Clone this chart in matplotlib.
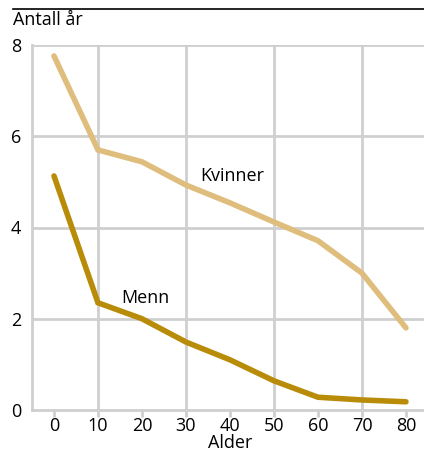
import matplotlib.pyplot as plt
from matplotlib.lines import Line2D

plt.rcParams['font.family'] = ['Open Sans', 'DejaVu Sans']

alder = [0, 10, 20, 30, 40, 50, 60, 70, 80]
kvinner = [7.76, 5.70, 5.44, 4.93, 4.54, 4.12, 3.71, 3.00, 1.80]
menn = [5.13, 2.35, 2.00, 1.49, 1.10, 0.64, 0.28, 0.22, 0.18]

fig = plt.figure(figsize=(4.24, 4.53), dpi=100)
W, H = 424, 453
ax = fig.add_axes([32 / W, 1 - 410 / H, (W - 32) / W, (410 - 45) / H])

grid_c = '#cfcfcf'
ax.plot(alder, kvinner, color='#dfbd7c', lw=4, solid_capstyle='round', solid_joinstyle='miter', zorder=3)
ax.plot(alder, menn, color='#b88c08', lw=4, solid_capstyle='round', solid_joinstyle='miter', zorder=3)

ax.set_xlim(-5, 84.1)
ax.set_ylim(0, 8)

# vertikale rutenett ved 10, 30, 50, 70
for x in [10, 30, 50, 70]:
    ax.axvline(x, color=grid_c, lw=2, zorder=1)
for y in [2, 4, 6, 8]:
    ax.axhline(y, color=grid_c, lw=2, zorder=1)

ax.set_xticks(alder)
ax.set_yticks([0, 2, 4, 6, 8])
ax.tick_params(axis='x', length=5, width=2, color=grid_c, labelsize=13, pad=0)
ax.tick_params(axis='y', length=0, labelsize=13, pad=8)

for s in ['top', 'right']:
    ax.spines[s].set_visible(False)
for s in ['left', 'bottom']:
    ax.spines[s].set_color(grid_c)
    ax.spines[s].set_linewidth(2)

ax.text(33.2, 5.13, 'Kvinner', fontsize=13, va='center')
ax.text(15.2, 2.46, 'Menn', fontsize=13, va='center')

# aksetittel for x plassert direkte i figuren
x_mid = ax.transData.transform((40, 0))[0] / W
fig.text(x_mid, 1 - 448.5 / H, 'Alder', fontsize=13, ha='center', va='baseline')

fig.text(13 / W, 1 - 20 / H, 'Antall år', fontsize=13, va='center', ha='left')
fig.add_artist(Line2D([13 / W, 1], [1 - 9 / H, 1 - 9 / H], color='black', lw=1.2))

fig.savefig('out.png', dpi=100)
